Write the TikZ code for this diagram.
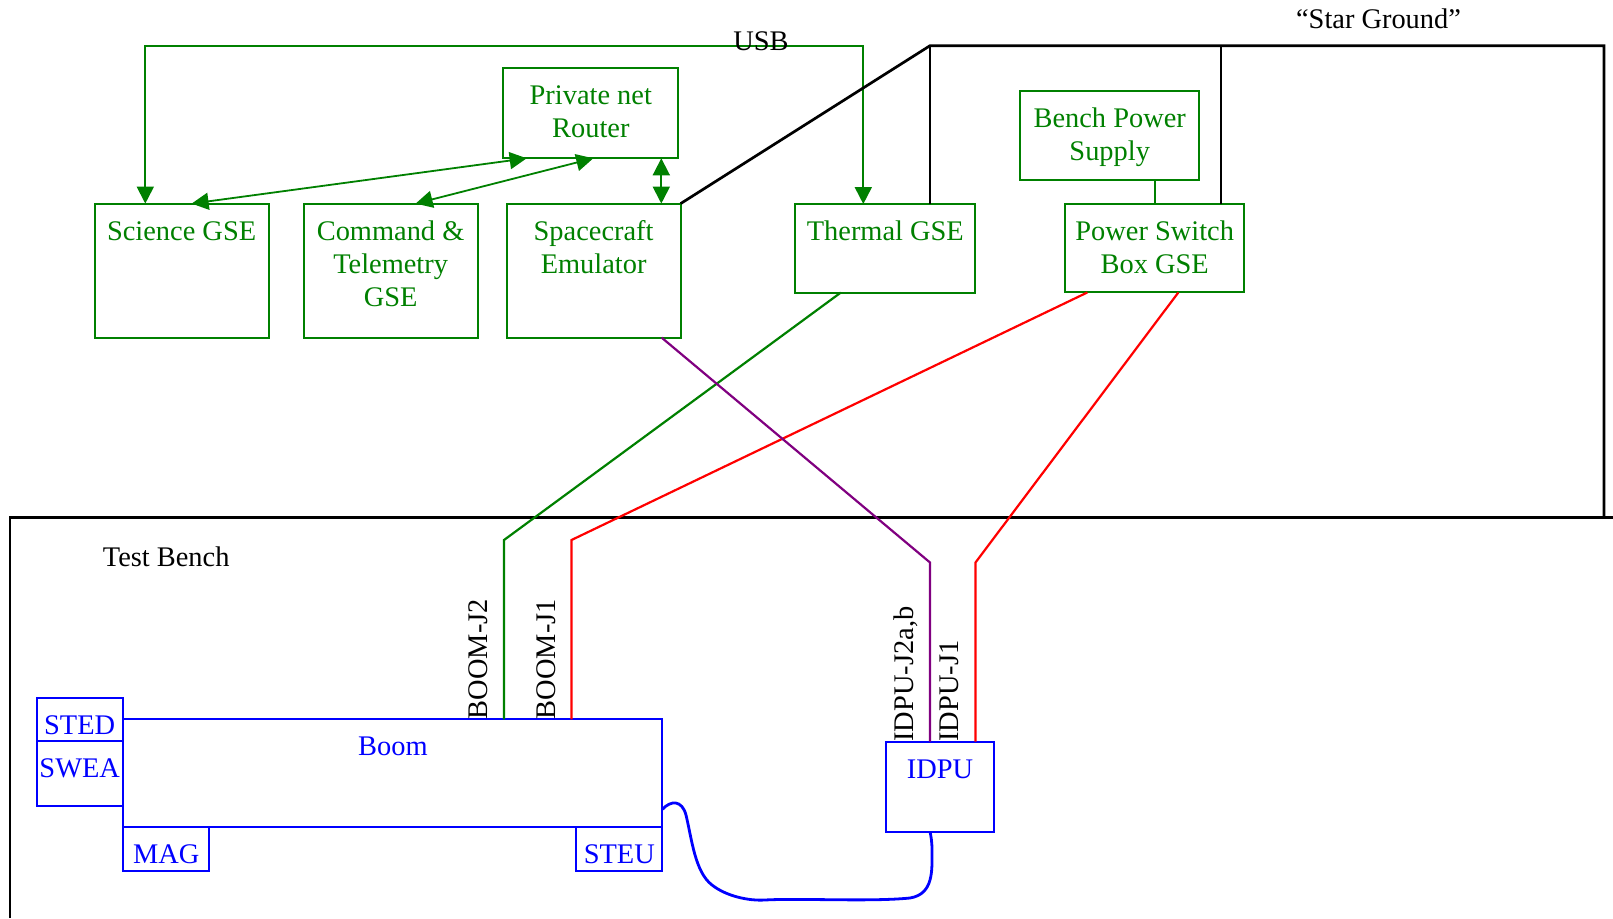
\documentclass[tikz,border=0pt]{standalone}
\usepackage{fontspec}
\setmainfont{Liberation Serif}
\usepackage{xcolor}
\usepackage{tikz}
\usetikzlibrary{arrows.meta, positioning, calc}

\definecolor{gsegreen}{RGB}{0,128,0}
\definecolor{wirepurple}{RGB}{128,0,128}

\begin{document}
\begin{tikzpicture}[x=1pt, y=-1pt, font=\fontsize{28.4}{33}\selectfont]

% ---- Styles -----------------------------------------------------------------
\tikzset{
  gbox/.style={draw=gsegreen, line width=2pt, inner sep=0pt, outer sep=0pt},
  bbox/.style={draw=blue, line width=2pt, inner sep=0pt, outer sep=0pt},
  gtxt/.style={text=gsegreen, align=center, anchor=base, inner sep=0pt},
  btxt/.style={text=blue, anchor=base, inner sep=0pt},
  ktxt/.style={text=black, anchor=base, inner sep=0pt},
  jtxt/.style={text=black, rotate=90, anchor=base west, inner sep=0pt},
  garrow/.style={draw=gsegreen, line width=1.8pt,
    arrows={Triangle[length=17pt,width=17pt]-Triangle[length=17pt,width=17pt]}},
  gline/.style={draw=gsegreen, line width=1.8pt},
  wire/.style={line width=2.2pt},
  gnd/.style={draw=black, line width=2.7pt},
}

\def\BW{174pt}   % GSE box width
\def\BH{134pt}   % GSE box height
\def\TB{36.5pt}  % first baseline below box top
\def\LS{33pt}    % line spacing (base anchor sits on the last line)

\useasboundingbox (0,0) rectangle (1613,918);

% ---- GSE boxes --------------------------------------------------------------
\node[gbox, minimum width=\BW, minimum height=\BH] (sci) at (181.6,270.6) {};
\node[gbox, minimum width=\BW, minimum height=\BH, right=35pt of sci] (cmd) {};
\node[gbox, minimum width=\BW, minimum height=\BH, right=29pt of cmd] (sc) {};
\node[gbox, minimum width=175pt, minimum height=90pt] (router) at (590.8,113.3) {};
\node[gbox, minimum width=180pt, minimum height=88.5pt] (thermal) at (885.3,248.3) {};
\node[gbox, minimum width=179.3pt, minimum height=89.3pt] (bps) at (1109.7,135.4) {};
\node[gbox, minimum width=179.3pt, minimum height=88.5pt] (psb) at (1154.7,248.2) {};

\node[gtxt] (scitxt) at ([yshift=-\TB]sci.north) {Science GSE};
\node[gtxt] (cmdtxt) at ([yshift=-\TB-2*\LS]cmd.north) {Command \&\\ Telemetry\\ GSE};
\node[gtxt] (sctxt) at ([yshift=-\TB-\LS]sc.north) {Spacecraft\\ Emulator};
\node[gtxt] (routertxt) at ([yshift=-\TB-\LS]router.north) {Private net\\ Router};
\node[gtxt] (thermaltxt) at ([yshift=-\TB]thermal.north) {Thermal GSE};
\node[gtxt] (bpstxt) at ([yshift=-\TB-\LS]bps.north) {Bench Power\\ Supply};
\node[gtxt] (psbtxt) at ([yshift=-\TB-\LS]psb.north) {Power Switch\\ Box GSE};

% ---- Instrument boxes -------------------------------------------------------
\node[bbox, minimum width=86pt, minimum height=43pt] (sted) at (79.7,719.2) {};
\node[bbox, minimum width=86pt, minimum height=65pt, below=0pt of sted] (swea) {};
\node[bbox, minimum width=539pt, minimum height=107.4pt] (boom) at (392.9,773) {};
\node[bbox, minimum width=85.6pt, minimum height=44pt, anchor=north west] (mag) at (boom.south west) {};
\node[bbox, minimum width=86.3pt, minimum height=44pt, anchor=north east] (steu) at (boom.south east) {};
\node[bbox, minimum width=108pt, minimum height=90pt] (idpu) at (940,786.7) {};

\node[btxt] (stedtxt) at ([yshift=-\TB]sted.north) {STED};
\node[btxt] (sweatxt) at ([yshift=-\TB]swea.north) {SWEA};
\node[btxt] (boomtxt) at ([yshift=-\TB]boom.north) {Boom};
\node[btxt] (magtxt) at ([yshift=-\TB]mag.north) {MAG};
\node[btxt] (steutxt) at ([yshift=-\TB]steu.north) {STEU};
\node[btxt] (idputxt) at ([yshift=-\TB]idpu.north) {IDPU};

% ---- Network and USB links --------------------------------------------------
\coordinate (usb) at (761,45.7);
\draw[garrow] ([xshift=-36.3pt]sci.north) |- (usb) -| ([xshift=-22pt]thermal.north);
\node[ktxt] (usblbl) at ([yshift=-5pt]usb) {USB};

\draw[garrow] ([xshift=23.4pt]router.south west) -- ([xshift=10pt]sci.north);
\draw[garrow] ([xshift=2.5pt]router.south) -- ([xshift=25pt]cmd.north);
\coordinate (rtap) at ([xshift=-17pt]router.south east);
\draw[garrow] (rtap) -- (rtap |- sc.north);

\draw[gline] (psb.north) -- (psb.north |- bps.south);

% ---- Star ground and test bench ---------------------------------------------
\coordinate (sg) at (930,45.7);
\coordinate (sgm) at (1221,45.7);
\coordinate (sgr) at (1604,45.7);
\coordinate (benchbl) at (10,918);
\coordinate (benchtl) at (10,517.3);
\coordinate (benchtr) at (1613,517.3);

\draw[gnd] (sc.north east) -- (sg) -- (sgr) -- (sgr |- benchtl);
\draw[gnd] (sg) -- (sg |- thermal.north);
\draw[gnd] (sgm) -- (sgm |- psb.north);
\draw[gnd] (benchbl) -- (benchtl) -- (benchtr);

\node[ktxt] (sglbl) at (1378.5,28) {“Star Ground”};
\node[ktxt, anchor=base west] (tblbl) at (102.7,566.7) {Test Bench};

% ---- Harness ----------------------------------------------------------------
\coordinate (gbend) at (504,540);
\coordinate (rbend) at (571.5,540);
\coordinate (pbend) at (930,562.5);
\coordinate (r2bend) at (975.5,562.5);

\draw[wire, draw=gsegreen] ([xshift=-44.5pt]thermal.south) -- (gbend) -- (gbend |- boom.north);
\draw[wire, draw=red] ([xshift=22.3pt]psb.south west) -- (rbend) -- (rbend |- boom.north);
\draw[wire, draw=wirepurple] ([xshift=-19pt]sc.south east) -- (pbend) -- (pbend |- idpu.north);
\draw[wire, draw=red] ([xshift=-66pt]psb.south east) -- (r2bend) -- (r2bend |- idpu.north);

\node[jtxt] (bj2) at (487.3,719.3) {BOOM-J2};
\node[jtxt] (bj1) at (555,719.3) {BOOM-J1};
\node[jtxt] (ij2) at (913,741.7) {IDPU-J2a,b};
\node[jtxt] (ij1) at (958.3,741.7) {IDPU-J1};

% boom to IDPU cable
\coordinate (cstart) at ([yshift=17.4pt]boom.south east);
\coordinate (cend) at ([xshift=-10pt]idpu.south);
\draw[draw=blue, line width=2.8pt] (cstart) .. controls (671,800) and (682,800) .. (686,815)
  .. controls (692,840) and (695,872) .. (712,885)
  .. controls (726,896) and (748,901) .. (765,900)
  .. controls (800,898) and (870,902) .. (910,898)
  .. controls (934,894) and (932,870) .. (932,850)
  .. controls (932,842) and (931,836) .. (cend);

\end{tikzpicture}
\end{document}
